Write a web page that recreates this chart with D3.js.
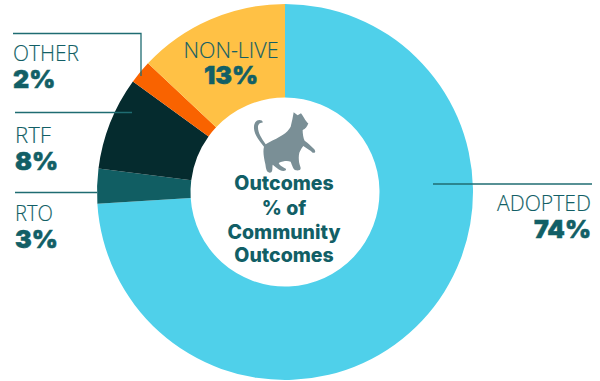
<!DOCTYPE html>
<html>
<head>
<meta charset="utf-8">
<script src="https://cdn.jsdelivr.net/npm/d3@7"></script>
<style>
html,body{margin:0;padding:0;background:#fff;}
svg{display:block;}
.name{font-family:"Open Sans",sans-serif;font-weight:300;font-size:22px;fill:#125f66;stroke:#125f66;stroke-width:0.15px;}
.pct{font-family:Inter,sans-serif;font-weight:900;font-size:25px;fill:#125f66;stroke:#125f66;stroke-width:0.5px;}
.centre{font-family:Inter,sans-serif;font-weight:800;font-size:19.5px;fill:#125f66;text-anchor:middle;}
</style>
</head>
<body>
<svg id="chart" width="600" height="381"></svg>
<script>
// Share of community outcomes, clockwise from twelve o'clock
const categories = ["ADOPTED", "RTO", "RTF", "OTHER", "NON-LIVE"];
const shares = [74, 3, 8, 2, 13];
const sliceColors = ["#4fd0ea", "#115e63", "#052b2e", "#f96300", "#ffc145"];
const centreLines = ["Outcomes", "% of", "Community", "Outcomes"];

const svg = d3.select("#chart");
const cx = 285, cy = 192, outer = 188, inner = 94.5;

const pie = d3.pie().sort(null).value(d => d.value);
const arc = d3.arc().innerRadius(inner).outerRadius(outer);
const rows = categories.map((name, i) => ({name, value: shares[i], color: sliceColors[i]}));

svg.append("g").attr("transform", `translate(${cx},${cy})`)
  .selectAll("path").data(pie(rows)).join("path")
  .attr("d", arc)
  .attr("fill", d => d.data.color);

// Leader lines
const leaders = [
  [[13, 33.5], [141, 33.5], [141, 76]],
  [[15, 112.5], [132, 112.5]],
  [[15, 192.5], [97, 192.5]],
  [[433, 184], [592, 184]]
];
const line = d3.line();
svg.append("g").selectAll("path").data(leaders).join("path")
  .attr("d", line)
  .attr("fill", "none")
  .attr("stroke", "#1f6c72")
  .attr("stroke-width", 1.3);

// Category labels with their percentage underneath; the names are set slightly condensed
const labelPlacement = {
  "OTHER":    {x: 13,  nameY: 61,  pctY: 88,  anchor: "start",  width: 66},
  "RTF":      {x: 15,  nameY: 143, pctY: 170, anchor: "start",  width: 36},
  "RTO":      {x: 15,  nameY: 221, pctY: 248, anchor: "start",  width: 38},
  "NON-LIVE": {x: 231, nameY: 58,  pctY: 84,  anchor: "middle", width: 95},
  "ADOPTED":  {x: 591, nameY: 211, pctY: 238, anchor: "end",    width: 94}
};
const labels = svg.append("g").selectAll("g").data(rows).join("g");
labels.append("text").attr("class", "name")
  .attr("x", d => labelPlacement[d.name].x)
  .attr("y", d => labelPlacement[d.name].nameY)
  .attr("text-anchor", d => labelPlacement[d.name].anchor)
  .attr("textLength", d => labelPlacement[d.name].width)
  .attr("lengthAdjust", "spacingAndGlyphs")
  .text(d => d.name);
labels.append("text").attr("class", "pct")
  .attr("x", d => labelPlacement[d.name].x)
  .attr("y", d => labelPlacement[d.name].pctY)
  .attr("text-anchor", d => labelPlacement[d.name].anchor)
  .text(d => d.value + "%");

// Cat silhouette above the centre title
svg.append("path")
  .attr("transform", "translate(200,100) scale(0.3333)")
  .attr("fill", "#7a8f96")
  .attr("d", "M197,133 C185,115 174,100 174,82 C174,72 180,68 187,68 C190,65 186,60 178,60 C166,61 161,72 162,85 C163,105 178,122 192,140 C188,155 192,175 196,192 C198,205 199,217 209,218 C220,218 216,204 218,194 C226,200 238,212 250,213 C260,213 261,206 252,203 C246,200 238,195 236,189 C250,183 262,182 272,185 C276,195 280,210 288,211 C300,212 304,208 301,200 C296,188 295,170 298,158 C302,150 306,142 310,138 C320,145 332,152 338,158 C346,160 348,155 343,148 C335,140 325,130 314,122 C310,115 308,100 308,90 C316,88 322,80 325,70 C318,66 314,55 303,40 L293,46 L281,37 C279,50 276,65 272,80 C262,100 240,110 205,128 Z");

// Centre title
svg.append("g").selectAll("text")
  .data(centreLines).join("text")
  .attr("class", "centre")
  .attr("x", 284)
  .attr("y", (d, i) => [190, 215, 239, 262][i])
  .text(d => d);
</script>
</body>
</html>
